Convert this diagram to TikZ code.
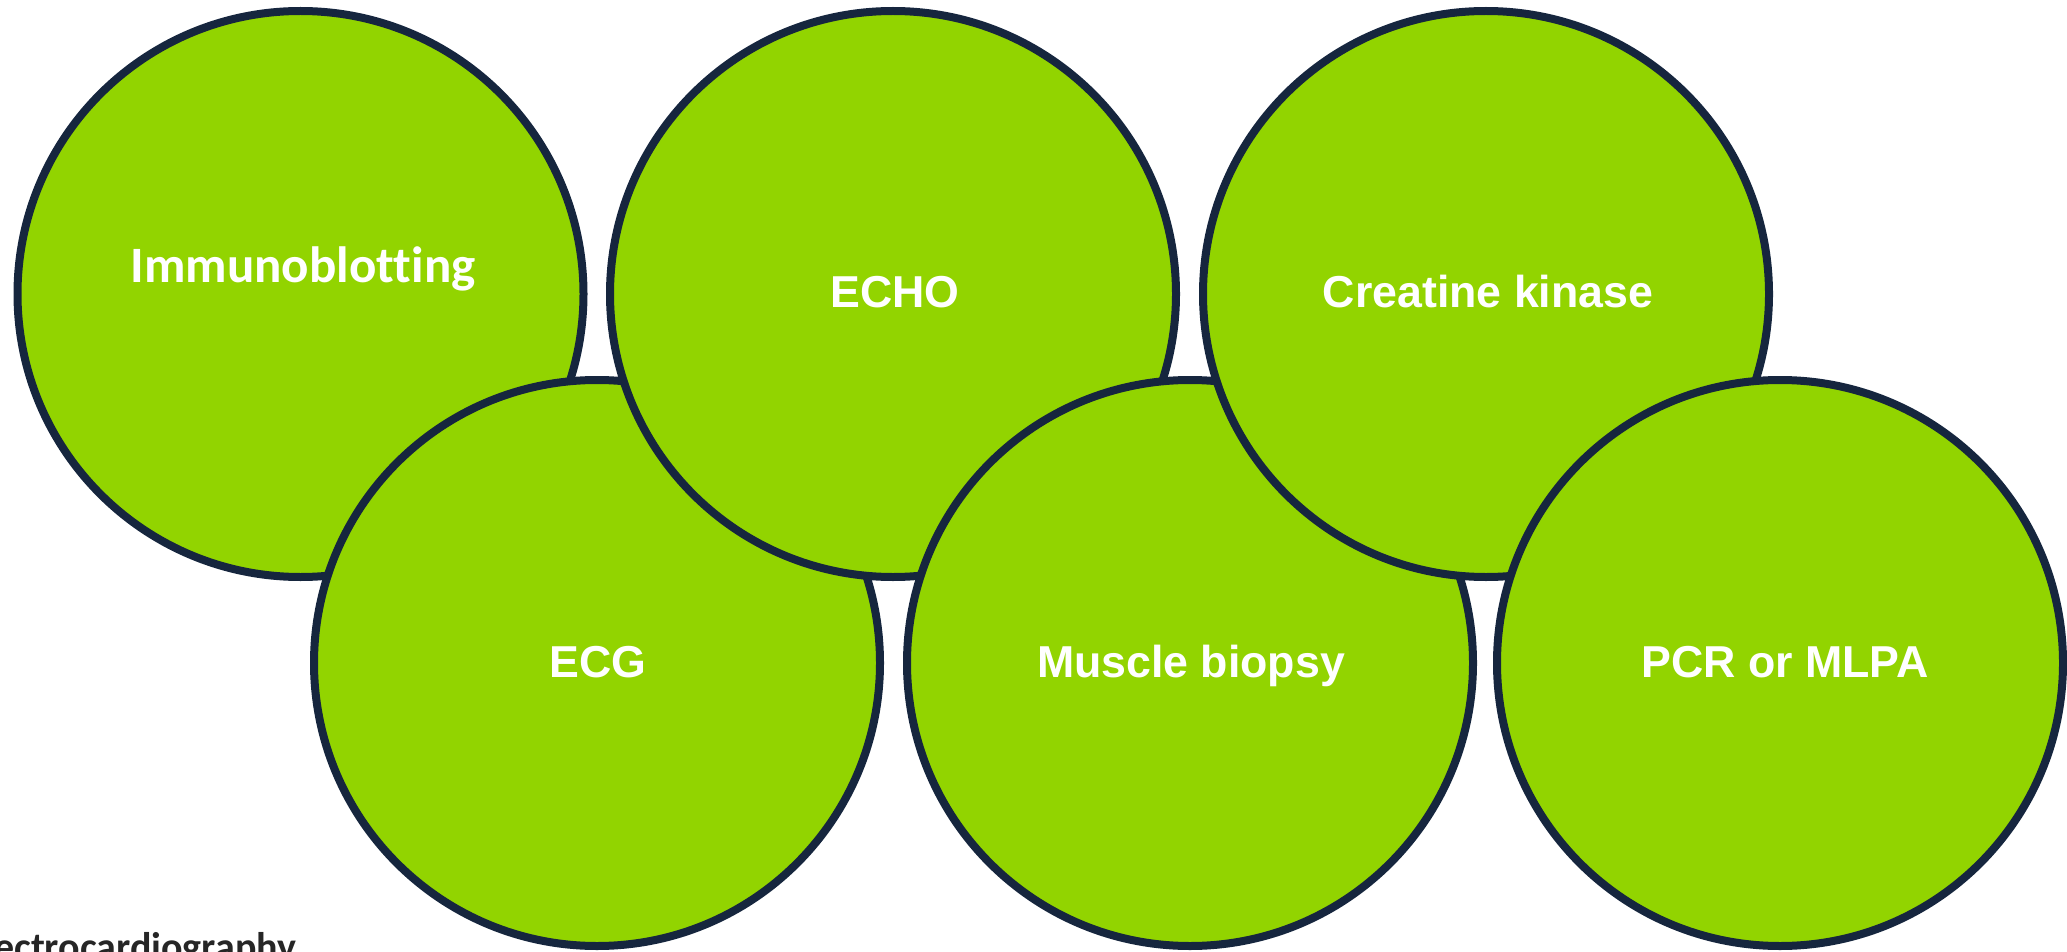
\documentclass[tikz,border=0pt]{standalone}
\usepackage{fontspec}
\setmainfont{Liberation Sans}
\newfontfamily\carlito[Ligatures=NoCommon]{Carlito}
\definecolor{circfill}{RGB}{146,212,0}
\definecolor{circline}{RGB}{22,38,62}
\definecolor{textgray}{RGB}{38,38,38}
\begin{document}
\begin{tikzpicture}[x=1pt,y=-1pt,
  bubble/.style={circle, draw=circline, fill=circfill, line width=8pt, inner sep=0pt, minimum size=566pt},
  lab/.style={anchor=base, text=white, font=\bfseries\fontsize{44.7}{54}\selectfont, inner sep=0pt},
  labc/.style={anchor=base, text=white, font=\carlito\bfseries\fontsize{51}{61}\selectfont, inner sep=0pt}]
\useasboundingbox (0,0) rectangle (2067,952);
\node[bubble] (c1) at (300.5,294) {};
\node[labc] (t1) at (303,282) {Immunoblotting};
\node[bubble] (c2) at (597,663) {};
\node[lab] (t2) at (598,677) {ECG};
\node[bubble] (c3) at (893,294) {};
\node[lab] (t3) at (895,307) {ECHO};
\node[bubble] (c4) at (1190,663) {};
\node[lab] (t4) at (1191,677) {Muscle biopsy};
\node[bubble] (c5) at (1486,294) {};
\node[lab] (t5) at (1488,307) {Creatine kinase};
\node[bubble] (c6) at (1780,663) {};
\node[lab] (t6) at (1785,677) {PCR or MLPA};
\node[anchor=base west, inner sep=0pt, text=textgray, font=\carlito\bfseries\fontsize{40}{48}\selectfont] (foot) at (-6,960) {ectrocardiography};
\end{tikzpicture}
\end{document}
